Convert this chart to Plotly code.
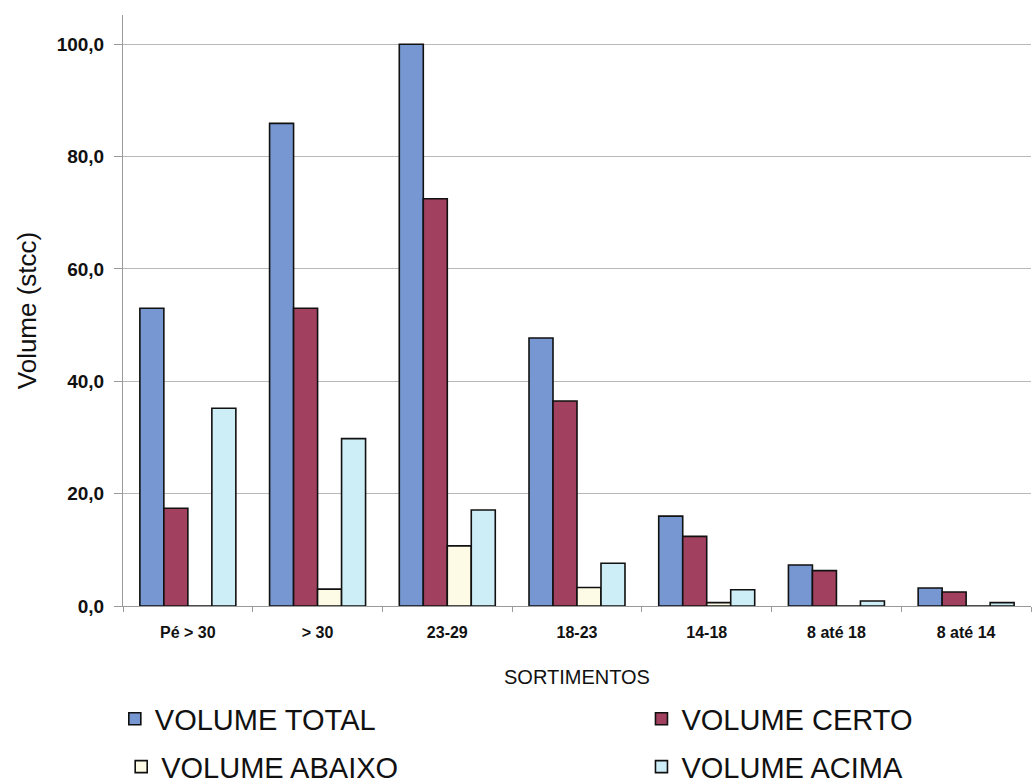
import plotly.graph_objects as go

# Assortment classes and volumes (stcc) per class
sortimentos = ["Pé > 30", "> 30", "23-29", "18-23", "14-18", "8 até 18", "8 até 14"]
volume_total = [53.0, 85.9, 100.0, 47.7, 16.0, 7.3, 3.2]
volume_certo = [17.4, 53.0, 72.5, 36.5, 12.4, 6.3, 2.5]
volume_abaixo = [0.0, 3.0, 10.7, 3.3, 0.6, 0.0, 0.0]
volume_acima = [35.2, 29.8, 17.1, 7.6, 2.9, 0.9, 0.6]

FONT = "Arial, Liberation Sans, sans-serif"

# name, values, fill colour, legend id, legend x (paper), legend y (paper)
series = [
    ("VOLUME TOTAL", volume_total, "#7797d2", "legend", -0.009, -0.191),
    ("VOLUME CERTO", volume_certo, "#a2405f", "legend2", 0.571, -0.191),
    ("VOLUME ABAIXO", volume_abaixo, "#fdfbe6", "legend3", -0.002, -0.272),
    ("VOLUME ACIMA", volume_acima, "#cdeef6", "legend4", 0.571, -0.272),
]

fig = go.Figure()
legends = {}
for name, vals, color, leg, lx, ly in series:
    fig.add_trace(go.Bar(
        x=sortimentos, y=vals, name=name, legend=leg,
        marker=dict(color=color, line=dict(color="#111111", width=1.6)),
    ))
    legends[leg] = dict(
        orientation="h", xanchor="left", yanchor="middle", x=lx, y=ly,
        font=dict(family=FONT, size=29, color="#111111"),
        bgcolor="rgba(0,0,0,0)",
    )

fig.add_annotation(
    text="SORTIMENTOS", xref="paper", yref="paper", x=0.5, y=-0.120,
    xanchor="center", yanchor="middle", showarrow=False,
    font=dict(family=FONT, size=20, color="#111111"),
)

fig.update_layout(
    width=1034, height=783,
    margin=dict(l=123, r=3, t=15, b=177, autoexpand=False),
    paper_bgcolor="#ffffff", plot_bgcolor="#ffffff",
    barmode="group", bargap=0.26, bargroupgap=0.0,
    separators=",.",
    showlegend=True,
    **legends,
    xaxis=dict(
        showline=True, linecolor="#9a9a9a", linewidth=1,
        ticks="outside", tickson="boundaries", ticklen=5, tickcolor="#9a9a9a",
        ticklabelstandoff=12,
        tickfont=dict(family=FONT, size=16, color="#111111", weight="bold"),
    ),
    yaxis=dict(
        range=[0, 105.2], tickvals=[0, 20, 40, 60, 80, 100], tickformat=".1f",
        showgrid=True, gridcolor="#b8b8b8", gridwidth=1,
        showline=True, linecolor="#9a9a9a", linewidth=1,
        ticks="outside", ticklen=8, tickcolor="#9a9a9a", zeroline=False,
        ticklabelstandoff=6,
        tickfont=dict(family=FONT, size=19, color="#111111", weight="bold"),
        title=dict(text="Volume (stcc)", font=dict(family=FONT, size=26, color="#111111"), standoff=12),
    ),
)

fig.write_html("out.html")
